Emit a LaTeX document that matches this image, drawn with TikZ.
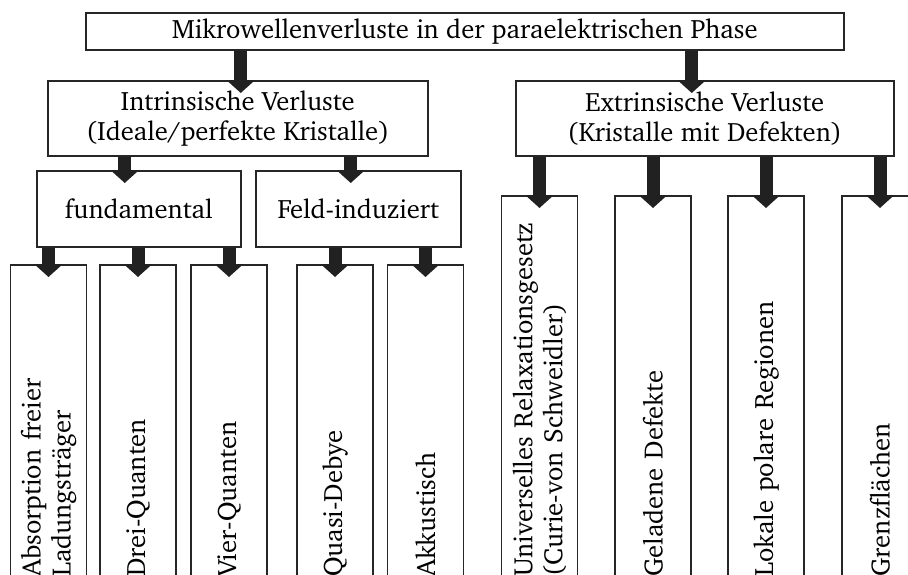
\documentclass[tikz,border=0pt]{standalone}
\usepackage[T1]{fontenc}
\usepackage{charter}
\usetikzlibrary{arrows.meta,positioning}
\tikzset{
  box/.style={draw=black!85,line width=1.5pt,inner sep=0pt,align=center,
    font=\fontsize{26.6}{30}\selectfont},
  flow/.style={draw=black!87,line width=13pt,-{Triangle[width=28pt,length=13pt]}},
  bar/.style={box,rotate=90,anchor=east,minimum height=76pt,inner xsep=4pt,align=left},
}

\begin{document}
\begin{tikzpicture}[x=1pt,y=-1pt]
\useasboundingbox (0,0) rectangle (908,574);
\clip (0,0) rectangle (908,574);
% Head
\node[box,anchor=north west,minimum width=758pt,minimum height=37pt] (phase) at (85,12) {Mikrowellenverluste in der paraelektrischen Phase};
% Intrinsisch / Extrinsisch
\node[box,anchor=north west,minimum width=380pt,minimum height=75pt] (intr) at (47,80) {Intrinsische Verluste\\(Ideale/perfekte Kristalle)};
\node[box,anchor=north west,minimum width=378pt,minimum height=75pt] (extr) at (515,80) {Extrinsische Verluste\\(Kristalle mit Defekten)};
\node[box,anchor=north west,minimum width=204pt,minimum height=76pt] (fund) at (36,170) {fundamental};
\node[box,anchor=north west,minimum width=205pt,minimum height=76pt] (feld) at (255,170) {Feld-induziert};
% Saeulen links
\node[bar,text width=308pt] (absorp) at (48.5,264) {Absorption freier\\Ladungstr\"ager};
\node[bar,text width=308pt] (drei) at (138,264) {Drei-Quanten};
\node[bar,text width=308pt] (vier) at (229,264) {Vier-Quanten};
\node[bar,text width=308pt] (debye) at (335,264) {Quasi-Debye};
\node[bar,text width=308pt] (akku) at (425.5,264) {Akkustisch};
% Saeulen rechts
\node[bar,text width=377pt] (relax) at (539.5,195) {Universelles Relaxationsgesetz\\(Curie-von Schweidler)};
\node[bar,text width=377pt] (gelad) at (653,195) {Geladene Defekte};
\node[bar,text width=377pt] (polar) at (766,195) {Lokale polare Regionen};
\node[bar,text width=377pt] (grenz) at (880,195) {Grenzfl\"achen};
% Pfeile
\draw[flow] ([xshift=3pt]intr.north |- phase.south) -- ([xshift=3pt,yshift=-13pt]intr.north);
\draw[flow] ([xshift=-13pt]extr.north |- phase.south) -- ([xshift=-13pt,yshift=-13pt]extr.north);
\draw[flow] ([xshift=-14pt]fund.north |- intr.south) -- ([xshift=-14pt,yshift=-13pt]fund.north);
\draw[flow] ([xshift=-7.5pt]feld.north |- intr.south) -- ([xshift=-7.5pt,yshift=-13pt]feld.north);
\foreach \bar in {absorp,drei,vier}
  \draw[flow] (\bar.east |- fund.south) -- ([yshift=-13pt]\bar.east);
\foreach \bar in {debye,akku}
  \draw[flow] (\bar.east |- feld.south) -- ([yshift=-13pt]\bar.east);
\foreach \bar in {relax,gelad,polar,grenz}
  \draw[flow] (\bar.east |- extr.south) -- ([yshift=-13pt]\bar.east);
\end{tikzpicture}
\end{document}
